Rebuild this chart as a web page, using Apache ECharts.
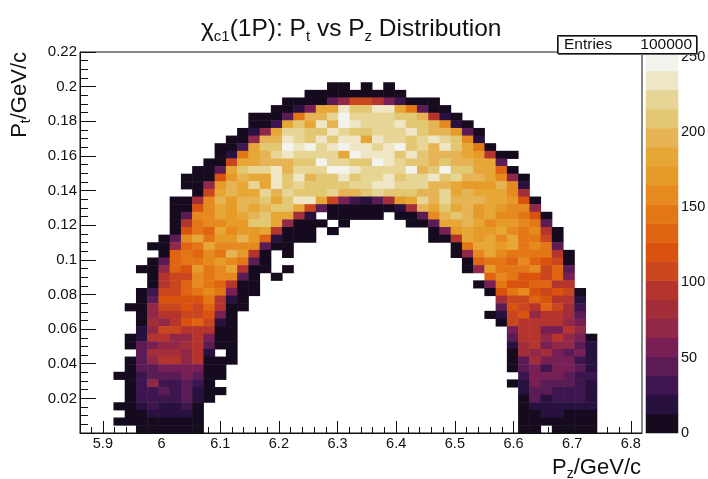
<!DOCTYPE html>
<html>
<head>
<meta charset="utf-8">
<style>
  html, body { margin: 0; padding: 0; background: #fff; }
  #chart { width: 708px; height: 479px; }
</style>
<script src="https://cdn.jsdelivr.net/npm/echarts@6/dist/echarts.min.js"></script>
</head>
<body>
<div id="chart"></div>
<script>
// 2D histogram, 50 x 50 bins. Rows go top to bottom, 0 = empty bin
const xRange = [5.861, 6.819];
const yRange = [0, 0.22];
const zMax = 253;
const binCount = 50;

// left part of every row starting at row 4 (whole row above the arch opening)
const leftStart = [22, 20, 18, 17, 15, 15, 14, 13, 12, 12, 11, 10, 9, 9, 10, 8, 8, 8, 8, 8, 7,
  6, 7, 6, 5, 6, 6, 5, 5, 4, 5, 5, 5, 4, 4, 5, 4, 4, 3, 4, 4, 4, 3, 4, 3, 5];
const leftCounts = [
  [6, 6, 0, 6, 0, 6],
  [6, 6, 6, 6, 6, 6, 6, 6, 6],
  [6, 6, 6, 6, 44, 70, 108, 108, 95, 57, 32, 6, 6, 6],
  [6, 6, 19, 57, 183, 183, 234, 209, 209, 234, 234, 183, 145, 44, 6, 6],
  [6, 6, 6, 44, 145, 196, 196, 221, 247, 221, 221, 221, 221, 209, 209, 196, 95, 19, 6],
  [6, 6, 32, 183, 209, 183, 234, 196, 247, 234, 221, 221, 221, 234, 209, 209, 196, 158, 19, 6],
  [6, 19, 70, 183, 221, 221, 209, 209, 234, 221, 209, 209, 221, 221, 221, 234, 209, 196, 196, 171, 44, 6],
  [6, 6, 70, 196, 196, 234, 221, 209, 234, 209, 234, 234, 183, 234, 221, 221, 209, 221, 234, 221, 209, 158, 19],
  [6, 6, 32, 183, 209, 209, 247, 234, 247, 221, 234, 247, 234, 234, 221, 234, 247, 209, 221, 196, 234, 209, 183, 145, 6],
  [6, 19, 145, 183, 196, 221, 234, 221, 221, 221, 221, 183, 247, 234, 234, 234, 209, 234, 209, 196, 196, 196, 183, 171, 95, 6, 6],
  [6, 6, 108, 183, 183, 196, 196, 196, 209, 209, 247, 221, 221, 209, 209, 247, 234, 221, 209, 209, 196, 209, 196, 196, 183, 183, 44],
  [6, 6, 44, 183, 209, 221, 221, 234, 196, 221, 221, 221, 247, 247, 234, 221, 221, 221, 221, 247, 196, 209, 247, 209, 209, 183, 183, 133, 6],
  [6, 6, 6, 120, 171, 196, 183, 183, 234, 209, 234, 196, 209, 209, 234, 209, 221, 221, 234, 209, 221, 221, 234, 209, 221, 196, 196, 183, 158, 70, 6],
  [6, 6, 70, 171, 196, 183, 221, 183, 234, 209, 221, 209, 209, 209, 209, 221, 221, 234, 234, 221, 221, 221, 196, 196, 183, 171, 171, 171, 196, 158, 19],
  [6, 108, 183, 196, 183, 183, 221, 196, 221, 209, 209, 209, 221, 196, 196, 209, 221, 209, 209, 209, 196, 196, 221, 183, 196, 183, 183, 183, 158, 82],
  [6, 6, 82, 158, 196, 171, 196, 196, 209, 183, 209, 234, 234, 183, 108, 57, 32, 19, 44, 82, 171, 183, 221, 196, 221, 196, 196, 196, 183, 183, 171, 120, 6],
  [6, 6, 120, 158, 183, 171, 196, 183, 196, 209, 209, 183, 108, 44, 6, 6, 6, 6, 6, 6, 19, 82, 196, 183, 209, 183, 196, 171, 183, 171, 158, 158, 70],
  [6, 44, 158, 158, 183, 171, 183, 196, 209, 183, 183, 82, 19, 0, 6, 6, 6, 6, 6, 0, 6, 6, 44, 158, 196, 209, 196, 171, 183, 158, 158, 145, 120, 6],
  [6, 95, 145, 158, 158, 171, 171, 209, 209, 183, 70, 6, 6, 6, 0, 6, 0, 0, 0, 0, 0, 6, 6, 44, 183, 183, 196, 183, 158, 171, 171, 158, 145, 44],
  [6, 120, 145, 133, 183, 158, 171, 171, 183, 95, 6, 6, 6, 0, 6, 0, 0, 0, 0, 0, 0, 0, 0, 6, 57, 171, 183, 171, 171, 183, 158, 145, 158, 95, 6],
  [6, 44, 158, 183, 145, 171, 171, 196, 171, 133, 19, 6, 6, 6, 0, 0, 0, 0, 0, 0, 0, 0, 0, 0, 6, 6, 95, 183, 171, 183, 158, 183, 145, 145, 108, 6],
  [6, 6, 70, 133, 145, 183, 158, 158, 158, 158, 44, 6, 6],
  [6, 133, 145, 133, 158, 145, 196, 171, 95, 6, 0, 6],
  [6, 44, 133, 145, 145, 158, 171, 158, 145, 44, 6],
  [6, 6, 70, 133, 120, 171, 145, 158, 183, 95, 6, 6, 0, 6],
  [6, 95, 108, 108, 158, 145, 158, 158, 44, 6, 0, 6],
  [6, 95, 108, 133, 158, 145, 133, 95, 6, 6],
  [6, 32, 108, 108, 133, 145, 158, 145, 57, 6, 6],
  [6, 44, 120, 120, 120, 120, 145, 95, 19, 6],
  [6, 6, 70, 108, 108, 120, 108, 133, 95, 6, 6],
  [6, 70, 95, 95, 108, 108, 120, 57, 6],
  [6, 82, 70, 95, 120, 133, 108, 19, 6],
  [19, 70, 108, 108, 95, 95, 95, 6, 6],
  [6, 19, 95, 95, 70, 70, 95, 57, 6, 6],
  [6, 44, 57, 70, 70, 82, 95, 44, 6, 6],
  [44, 82, 82, 82, 70, 95, 19, 0, 6],
  [6, 44, 70, 95, 95, 70, 95, 6, 6, 6],
  [6, 44, 44, 57, 57, 57, 57, 6, 6],
  [6, 6, 32, 44, 44, 44, 57, 44, 6, 6],
  [6, 32, 70, 32, 32, 44, 32, 6],
  [6, 32, 32, 44, 32, 44, 19, 6, 6],
  [6, 32, 32, 32, 32, 44, 19, 6],
  [6, 6, 19, 32, 19, 19, 32, 6],
  [6, 6, 19, 19, 19, 19, 6],
  [6, 6, 6, 6, 6, 6, 6, 6],
  [6, 6, 6, 6, 6, 6]
];

// right leg of the arch, rows 25 to 49
const rightStart = [33, 33, 34, 34, 36, 35, 36, 37, 37, 36, 37, 38, 38, 38, 38, 38, 38, 39, 38, 39, 39, 39, 39, 39, 39];
const rightCounts = [
  [6, 145, 183, 183, 171, 183, 145, 158, 145, 44],
  [6, 70, 158, 183, 158, 145, 145, 145, 145, 95, 6],
  [6, 133, 145, 145, 133, 158, 133, 120, 108, 6],
  [6, 70, 171, 145, 145, 145, 158, 108, 133, 44],
  [133, 158, 145, 120, 120, 108, 133, 57],
  [6, 57, 145, 120, 120, 133, 133, 95, 95],
  [6, 120, 145, 158, 120, 108, 120, 108, 6],
  [82, 108, 108, 133, 120, 95, 95, 19],
  [44, 120, 108, 95, 133, 108, 82, 32],
  [6, 19, 108, 120, 70, 95, 95, 82, 44],
  [6, 108, 95, 95, 95, 95, 70, 57],
  [57, 95, 95, 57, 57, 95, 70],
  [44, 95, 95, 70, 95, 70, 57, 6],
  [19, 82, 95, 57, 70, 70, 44, 19],
  [6, 82, 70, 82, 57, 44, 57, 19],
  [6, 44, 82, 57, 57, 57, 32, 19],
  [6, 44, 57, 32, 57, 57, 44, 19],
  [32, 57, 57, 57, 44, 32, 32],
  [6, 19, 57, 44, 44, 44, 32, 19],
  [19, 44, 44, 32, 32, 32, 19],
  [6, 44, 19, 32, 32, 32, 19],
  [6, 19, 19, 19, 19, 19, 19],
  [6, 6, 19, 19, 6, 6, 6],
  [6, 6, 6, 6, 6, 6, 6],
  [6, 6, 0, 6, 6, 6, 6]
];

// palette of the 20 contour levels, lowest first
const levelColors = ['#150a1e', '#28103f', '#3d154f', '#5b1c56', '#781f55', '#922847', '#a42d3a', '#b5352e',
  '#c9461e', '#d9530f', '#df6512', '#e37716', '#e6891e', '#e69a28', '#e6a736', '#e7b455',
  '#e3c874', '#e7d596', '#eee6c4', '#f3f3ee'];
const zTicks = [0, 50, 100, 150, 200, 250];
const xTicks = [5.9, 6, 6.1, 6.2, 6.3, 6.4, 6.5, 6.6, 6.7, 6.8];
const xMinorTicks = [5.88, 5.92, 5.94, 5.96, 5.98, 6.02, 6.04, 6.06, 6.08, 6.12, 6.14, 6.16, 6.18,
  6.22, 6.24, 6.26, 6.28, 6.32, 6.34, 6.36, 6.38, 6.42, 6.44, 6.46, 6.48,
  6.52, 6.54, 6.56, 6.58, 6.62, 6.64, 6.66, 6.68, 6.72, 6.74, 6.76, 6.78];

const fontName = 'Liberation Sans';
const textColor = '#111';

const binIndex = [...Array(binCount).keys()];
const heatData = [];
function addRows(starts, counts, firstRow) {
  counts.forEach((row, r) => {
    row.forEach((v, k) => {
      if (v > 0) heatData.push([starts[r] + k, binCount - 1 - (firstRow + r), v]);
    });
  });
}
addRows(leftStart, leftCounts, 4);
addRows(rightStart, rightCounts, 25);

const levelStep = zMax / levelColors.length;
const levelIndex = levelColors.map((c, i) => i);
const barData = levelIndex.map(i => [0, i, (i + 0.5) * levelStep]);

const chart = echarts.init(document.getElementById('chart'));
chart.setOption({
  animation: false,
  backgroundColor: '#fff',
  textStyle: { fontFamily: fontName },
  title: {
    text: '{m|χ}{s|c1}{m|(1P): P}{s|t}{m| vs P}{s|z}{m| Distribution}',
    left: 196,
    top: 10,
    textStyle: {
      fontWeight: 'normal',
      rich: {
        m: { fontFamily: fontName, fontWeight: 'normal', fontSize: 24.5, color: textColor, height: 28, lineHeight: 28 },
        s: { fontFamily: fontName, fontWeight: 'normal', fontSize: 15, color: textColor, padding: [14, 0, 0, 0] }
      }
    }
  },
  grid: [
    { left: 80, top: 52, width: 562, height: 381, outerBoundsMode: 'none', show: true, borderColor: '#111', borderWidth: 1, backgroundColor: '#fff' },
    { left: 646, top: 52, width: 32, height: 381, outerBoundsMode: 'none' }
  ],
  xAxis: [
    {
      type: 'value', gridIndex: 0, min: xRange[0], max: xRange[1], z: 5,
      name: '{m|P}{s|z}{m|/GeV/c}', nameLocation: 'end', nameGap: 0,
      nameTextStyle: {
        align: 'right', verticalAlign: 'top', padding: [22, 1, 0, 0],
        rich: {
          m: { fontFamily: fontName, fontSize: 22, color: textColor },
          s: { fontFamily: fontName, fontSize: 14, color: textColor, padding: [12, 0, 0, 0] }
        }
      },
      axisLine: { onZero: false, lineStyle: { color: '#111' } },
      axisTick: { inside: true, length: 12, lineStyle: { color: '#111' }, customValues: xTicks },
      axisLabel: { color: textColor, fontSize: 14.5, margin: 3, customValues: xTicks },
      splitLine: { show: false }
    },
    { type: 'category', gridIndex: 0, data: binIndex, show: false },
    { type: 'category', gridIndex: 1, data: [0], show: false },
    {
      // minor ticks only
      type: 'value', gridIndex: 0, position: 'bottom', min: xRange[0], max: xRange[1], z: 5,
      axisLine: { show: false },
      axisTick: { inside: true, length: 6, lineStyle: { color: '#111' }, customValues: xMinorTicks },
      axisLabel: { show: false },
      splitLine: { show: false }
    }
  ],
  yAxis: [
    {
      type: 'value', gridIndex: 0, min: yRange[0], max: yRange[1], interval: 0.02, z: 5,
      name: '{m|P}{s|t}{m|/GeV/c}', nameLocation: 'end', nameRotate: 90, nameGap: 0,
      nameTextStyle: {
        align: 'right', verticalAlign: 'bottom', padding: [0, 0, 47, 0],
        rich: {
          m: { fontFamily: fontName, fontSize: 22, color: textColor },
          s: { fontFamily: fontName, fontSize: 14, color: textColor, padding: [12, 0, 0, 0] }
        }
      },
      axisLine: { onZero: false, lineStyle: { color: '#111' } },
      axisTick: { inside: true, length: 16, lineStyle: { color: '#111' } },
      minorTick: { show: true, splitNumber: 4, length: 8, lineStyle: { color: '#111' } },
      axisLabel: { showMinLabel: false, color: textColor, fontSize: 15, margin: 3 },
      splitLine: { show: false }
    },
    { type: 'category', gridIndex: 0, data: binIndex, show: false },
    {
      type: 'value', gridIndex: 1, position: 'right', min: 0, max: zMax, interval: zTicks[1], z: 5,
      axisLine: { show: false },
      axisTick: { inside: true, length: 16, lineStyle: { color: '#111' } },
      axisLabel: { color: textColor, fontSize: 14.5, margin: 3, showMaxLabel: false },
      splitLine: { show: false }
    },
    { type: 'category', gridIndex: 1, data: levelIndex, show: false }
  ],
  visualMap: {
    type: 'piecewise',
    show: false,
    seriesIndex: [0, 1],
    dimension: 2,
    pieces: levelColors.map((color, i) => ({ min: i * levelStep, max: (i + 1) * levelStep, color }))
  },
  series: [
    { type: 'heatmap', xAxisIndex: 1, yAxisIndex: 1, data: heatData, progressive: 0 },
    { type: 'heatmap', xAxisIndex: 2, yAxisIndex: 3, data: barData, progressive: 0 }
  ],
  graphic: [
    { type: 'rect', z: 100, shape: { x: 557.5, y: 35.5, width: 139, height: 18 }, style: { fill: '#fff', stroke: '#111', lineWidth: 1, shadowColor: '#666', shadowOffsetX: 1, shadowOffsetY: 1 } },
    { type: 'text', z: 101, x: 564, y: 44.5, style: { text: 'Entries', font: '15.5px "Liberation Sans"', fill: textColor, verticalAlign: 'middle' } },
    { type: 'text', z: 101, x: 692, y: 44.5, style: { text: '100000', font: '15.5px "Liberation Sans"', fill: textColor, align: 'right', verticalAlign: 'middle' } }
  ]
});
</script>
</body>
</html>
